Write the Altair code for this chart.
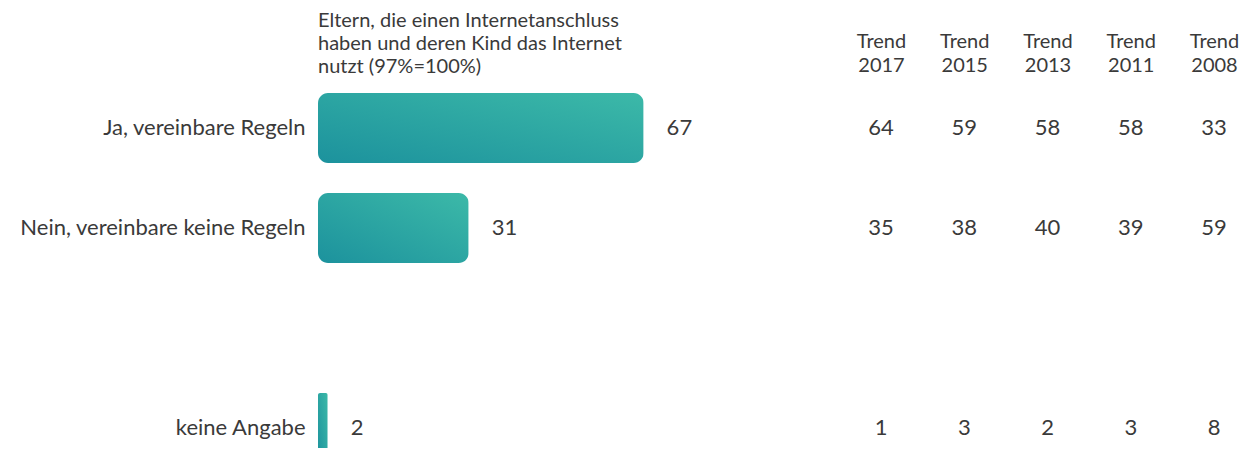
import altair as alt
import pandas as pd

categories = ["Ja, vereinbare Regeln", "Nein, vereinbare keine Regeln", " ", "keine Angabe"]
bar_cats = ["Ja, vereinbare Regeln", "Nein, vereinbare keine Regeln", "keine Angabe"]
bar_values = [67, 31, 2]
trend_years = ["2017", "2015", "2013", "2011", "2008"]
trend_ja = [64, 59, 58, 58, 33]
trend_nein = [35, 38, 40, 39, 59]
trend_ka = [1, 3, 2, 3, 8]
header = ["Eltern, die einen Internetanschluss",
          "haben und deren Kind das Internet",
          "nutzt (97%=100%)"]

bars_df = pd.DataFrame({"cat": bar_cats, "value": bar_values})
rows = []
for cat, vals in zip(bar_cats, [trend_ja, trend_nein, trend_ka]):
    for yr, v in zip(trend_years, vals):
        rows.append({"cat": cat, "year": yr, "value": v})
trend_df = pd.DataFrame(rows)

FONT = "Lato"
TXT = "#3a3a3a"

grad = alt.Gradient(
    gradient="linear",
    stops=[alt.GradientStop(color="#1c929d", offset=0),
           alt.GradientStop(color="#3cb9a8", offset=1)],
    x1=0, y1=1, x2=1, y2=0,
)

yenc = alt.Y(
    "cat:N",
    scale=alt.Scale(domain=categories, range=[0, 400], paddingInner=0.3, paddingOuter=0.15),
    axis=alt.Axis(title=None, domain=False, ticks=False, grid=False, labelLimit=0,
                  labelFont=FONT, labelFontSize=22, labelColor=TXT, labelPadding=13),
)
xbar = alt.X("value:Q", scale=alt.Scale(domain=[0, 100], range=[0, 486]), axis=None)

base = alt.Chart(bars_df).encode(x=xbar, y=yenc)
big = base.transform_filter("datum.value >= 10").mark_bar(cornerRadius=10, fill=grad)
small = base.transform_filter("datum.value < 10").mark_bar(cornerRadius=2, fill=grad)
labels = base.mark_text(align="left", dx=23, font=FONT, fontSize=22, color=TXT).encode(text="value:Q")

trend = alt.Chart(trend_df).mark_text(font=FONT, fontSize=22, color=TXT).encode(
    x=alt.X("year:N", sort=trend_years,
            scale=alt.Scale(type="point", domain=trend_years, range=[563, 896], padding=0),
            axis=alt.Axis(orient="top", title=None, domain=False, ticks=False, grid=False,
                          labelExpr="['Trend', datum.value]", labelFont=FONT, labelFontSize=20,
                          labelColor=TXT, labelPadding=27, labelAngle=0, labelLineHeight=24)),
    y=yenc,
    text="value:Q",
)

chart = alt.layer(big, small, labels, trend).resolve_scale(x="independent").properties(
    width=922,
    height=370,
    padding={"left": 310, "top": 70, "right": 0, "bottom": 0},
    autosize=alt.AutoSizeParams(type="none"),
    title=alt.TitleParams(text=header, anchor="start", frame="group", orient="top",
                          align="left", font=FONT, fontSize=20, fontWeight="normal",
                          color=TXT, lineHeight=23, offset=0, dy=46),
).configure_view(stroke=None)

chart.save("out.html", embed_options={"renderer": "svg", "actions": False})
